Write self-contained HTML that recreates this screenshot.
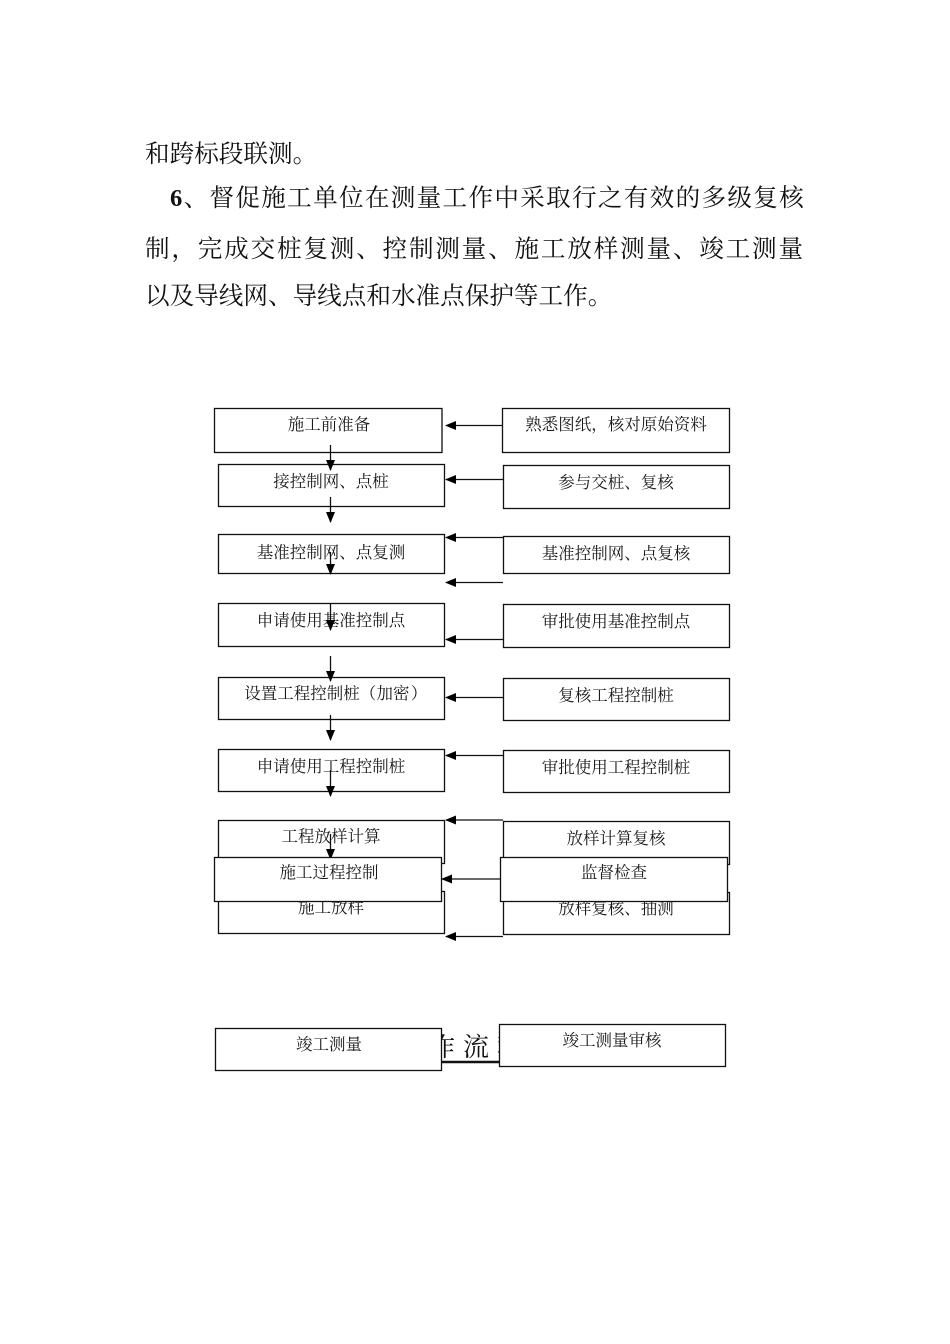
<!DOCTYPE html>
<html lang="zh"><head><meta charset="utf-8"><title>工程测量监理工作流程图</title>
<style>
html,body{margin:0;padding:0;background:#fff}
#p{position:relative;width:950px;height:1344px;overflow:hidden;background:#fff}
.t{position:absolute;white-space:nowrap;font-family:"Liberation Serif","Noto Serif CJK SC",serif;color:#111;font-size:24.6px;line-height:30px}
svg{position:absolute;left:0;top:0}
text{font-family:"Liberation Serif","Noto Serif CJK SC",serif;font-size:16.5px;fill:#1a1a1a;text-anchor:middle}
</style></head><body><div id="p">
<div class="t" style="left:145px;top:140px">和跨标段联测。</div>
<div class="t" style="left:170px;top:184px;letter-spacing:1.3px"><b>6</b>、督促施工单位在测量工作中采取行之有效的多级复核</div>
<div class="t" style="left:145px;top:235px;letter-spacing:1.8px">制，完成交桩复测、控制测量、施工放样测量、竣工测量</div>
<div class="t" style="left:145px;top:282px">以及导线网、导线点和水准点保护等工作。</div>
<div class="t" style="left:395px;top:1033px;letter-spacing:8px;font-size:26px">工作流程图</div>
<svg width="950" height="1344" viewBox="0 0 950 1344">
<defs><marker id="a" markerWidth="11" markerHeight="9" refX="10" refY="4.5" orient="auto" markerUnits="userSpaceOnUse"><path d="M0 0L11 4.5L0 9Z" fill="#000"/></marker></defs>
<line x1="441" y1="1062" x2="500" y2="1062" stroke="#111" stroke-width="2.4"/>
<g fill="#fff" stroke="#111" stroke-width="1.3">
<rect x="214.5" y="408.5" width="227.5" height="44"/>
<rect x="502.5" y="408.5" width="227" height="44"/>
<rect x="218.5" y="464.5" width="226" height="42"/>
<rect x="503.5" y="465.5" width="226" height="43"/>
<rect x="218.5" y="534.5" width="226" height="39"/>
<rect x="503.5" y="536.5" width="226" height="37"/>
<rect x="218.5" y="603.5" width="226" height="43"/>
<rect x="503.5" y="604.5" width="226" height="43"/>
<rect x="218.5" y="677.5" width="226" height="42"/>
<rect x="503.5" y="678.5" width="226" height="42"/>
<rect x="218.5" y="749.5" width="226" height="42"/>
<rect x="503.5" y="750.5" width="226" height="42"/>
<rect x="218.5" y="820.5" width="226" height="43"/>
<rect x="503.5" y="821.5" width="226" height="43"/>
<rect x="218.5" y="891.5" width="226" height="42"/>
<rect x="503.5" y="892.5" width="226" height="42"/>
</g>
<g>
<text x="329" y="430">施工前准备</text>
<text x="616" y="430">熟悉图纸，核对原始资料</text>
<text x="331" y="487">接控制网、点桩</text>
<text x="616" y="488">参与交桩、复核</text>
<text x="331" y="558">基准控制网、点复测</text>
<text x="616" y="559">基准控制网、点复核</text>
<text x="331" y="626">申请使用基准控制点</text>
<text x="616" y="627">审批使用基准控制点</text>
<text x="302" y="699">设置工程控制桩</text>
<text x="368" y="699">（</text>
<text x="393" y="699">加密</text>
<text x="419" y="699">）</text>
<text x="616" y="701">复核工程控制桩</text>
<text x="331" y="772">申请使用工程控制桩</text>
<text x="616" y="773">审批使用工程控制桩</text>
<text x="331" y="842">工程放样计算</text>
<text x="616" y="844">放样计算复核</text>
<text x="331" y="913">施工放样</text>
<text x="616" y="914">放样复核、抽测</text>
</g>
<g stroke="#111" stroke-width="1.3">
<line x1="330.5" y1="445" x2="330.5" y2="470" marker-end="url(#a)"/>
<line x1="330.5" y1="497" x2="330.5" y2="522" marker-end="url(#a)"/>
<line x1="330.5" y1="552" x2="330.5" y2="574" marker-end="url(#a)"/>
<line x1="330.5" y1="604" x2="330.5" y2="630" marker-end="url(#a)"/>
<line x1="330.5" y1="656" x2="330.5" y2="681" marker-end="url(#a)"/>
<line x1="330.5" y1="715" x2="330.5" y2="740" marker-end="url(#a)"/>
<line x1="330.5" y1="770" x2="330.5" y2="796" marker-end="url(#a)"/>
<line x1="330.5" y1="834" x2="330.5" y2="859" marker-end="url(#a)"/>
<line x1="502" y1="425.5" x2="446" y2="425.5" marker-end="url(#a)"/>
<line x1="503" y1="479.5" x2="446" y2="479.5" marker-end="url(#a)"/>
<line x1="503" y1="537.5" x2="446" y2="537.5" marker-end="url(#a)"/>
<line x1="503" y1="582.5" x2="446" y2="582.5" marker-end="url(#a)"/>
<line x1="503" y1="639.5" x2="446" y2="639.5" marker-end="url(#a)"/>
<line x1="503" y1="697.5" x2="446" y2="697.5" marker-end="url(#a)"/>
<line x1="503" y1="755.5" x2="446" y2="755.5" marker-end="url(#a)"/>
<line x1="503" y1="820" x2="446" y2="820" marker-end="url(#a)"/>
<line x1="500" y1="879" x2="442" y2="879" marker-end="url(#a)"/>
<line x1="503" y1="936.5" x2="446" y2="936.5" marker-end="url(#a)"/>
</g>
<g fill="#fff" stroke="#111" stroke-width="1.3">
<rect x="214.5" y="857.5" width="227" height="44"/>
<rect x="500.5" y="857.5" width="227" height="44"/>
<rect x="215.5" y="1028.5" width="226" height="42"/>
<rect x="499.5" y="1024.5" width="226" height="42"/>
</g>
<text x="329" y="878">施工过程控制</text>
<text x="614" y="878">监督检查</text>
<text x="329" y="1050">竣工测量</text>
<text x="612" y="1046">竣工测量审核</text>
</svg>
</div></body></html>
